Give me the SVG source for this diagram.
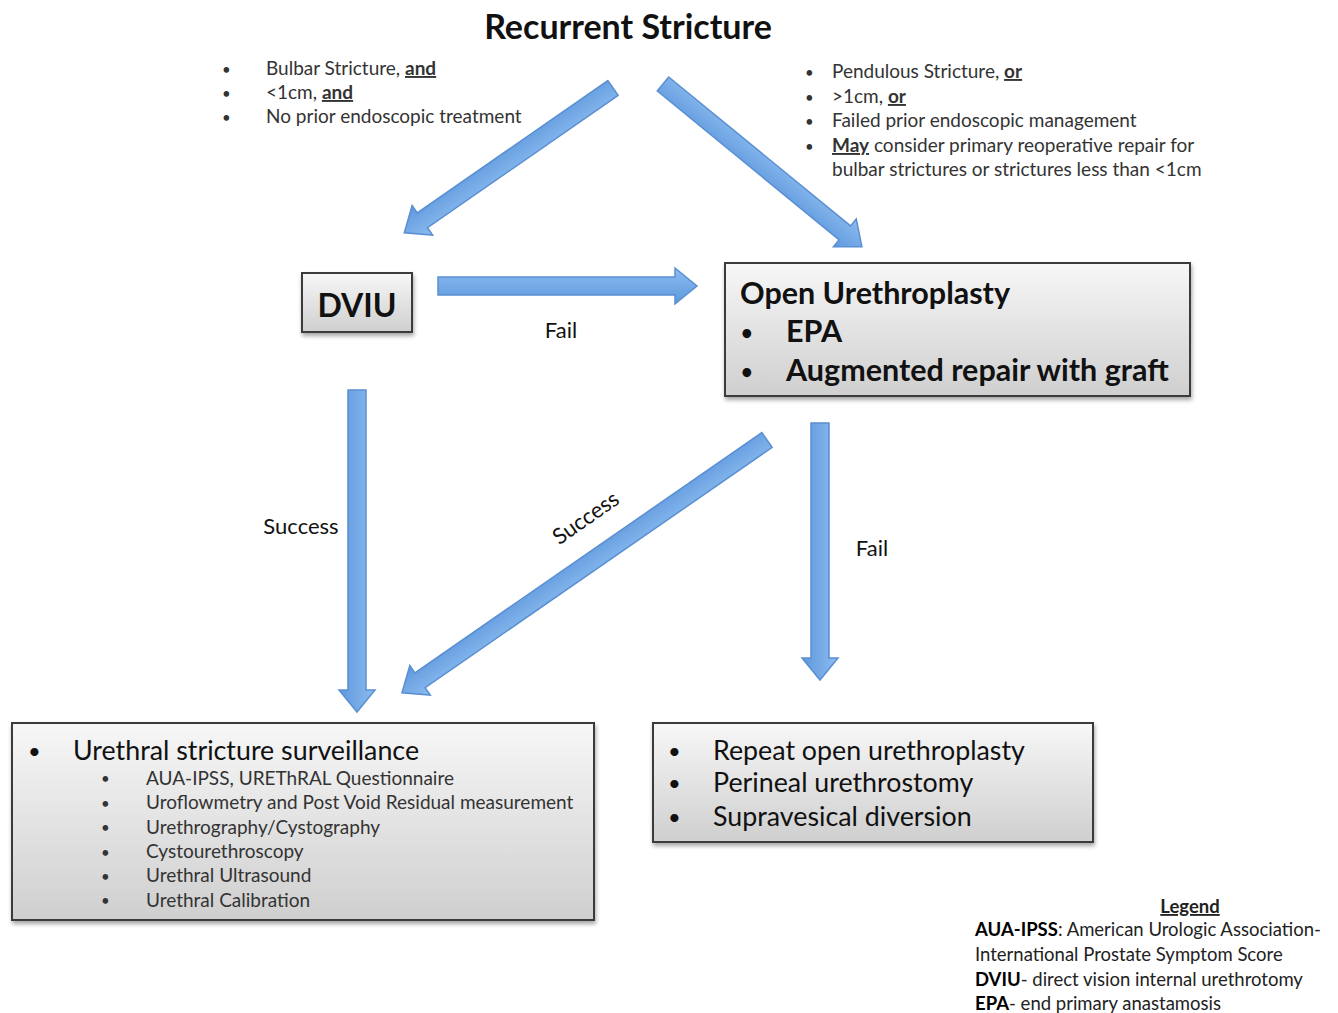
<svg xmlns="http://www.w3.org/2000/svg" width="1338" height="1013" viewBox="0 0 1338 1013">
<defs>
<linearGradient id="boxg" x1="0" y1="0" x2="0" y2="1">
<stop offset="0" stop-color="#f7f7f7"/>
<stop offset="1" stop-color="#cfcfcf"/>
</linearGradient>
<linearGradient id="arrg" x1="0" y1="0" x2="0" y2="1">
<stop offset="0" stop-color="#8cbcf0"/>
<stop offset="1" stop-color="#5e98dc"/>
</linearGradient>
<filter id="sh" x="-10%" y="-10%" width="120%" height="130%">
<feDropShadow dx="1" dy="3" stdDeviation="2" flood-color="#000" flood-opacity="0.35"/>
</filter>
</defs>
<style>
text{font-family:Lato,"Open Sans","Liberation Sans",sans-serif;fill:#111}
.box{fill:url(#boxg);stroke:#3a3a3a;stroke-width:2;filter:url(#sh)}
.arr{fill:url(#arrg);stroke:#5a8fd2;stroke-width:1.5}
.cond{font-size:19px;fill:#333}
.dot{font-size:15px;fill:#333}
.lbl{font-size:22px}
.big{font-size:26.8px}
.sub{font-size:19px;fill:#333}
.leg{font-size:18.5px;fill:#222}
.hd{font-size:30.5px;font-weight:bold}
.b{font-weight:bold}
.u{text-decoration:underline}
</style>
<rect width="1338" height="1013" fill="#fff"/>
<text x="628" y="39" text-anchor="middle" font-size="34" font-weight="bold">Recurrent Stricture</text>
<g id="cond-left">
<text x="222" y="75" class="dot">•</text><text x="266" y="75" class="cond">Bulbar Stricture, <tspan class="b u">and</tspan></text>
<text x="222" y="99" class="dot">•</text><text x="266" y="99" class="cond">&lt;1cm, <tspan class="b u">and</tspan></text>
<text x="222" y="123" class="dot">•</text><text x="266" y="123" class="cond">No prior endoscopic treatment</text>
</g>
<g id="cond-right">
<text x="805" y="78" class="dot">•</text><text x="832" y="78" class="cond">Pendulous Stricture, <tspan class="b u">or</tspan></text>
<text x="805" y="103" class="dot">•</text><text x="832" y="103" class="cond">&gt;1cm, <tspan class="b u">or</tspan></text>
<text x="805" y="127" class="dot">•</text><text x="832" y="127" class="cond">Failed prior endoscopic management</text>
<text x="805" y="152" class="dot">•</text><text x="832" y="152" class="cond"><tspan class="b u">May</tspan> consider primary reoperative repair for</text>
<text x="832" y="176" class="cond">bulbar strictures or strictures less than &lt;1cm</text>
</g>
<g id="connectors">
<path class="arr" transform="translate(613,88) rotate(145.25)" d="M0,-9 L232,-9 L232,-18 L254,0 L232,18 L232,9 L0,9 Z"/>
<path class="arr" transform="translate(663,84) rotate(39.3)" d="M0,-9 L235,-9 L235,-18 L257,0 L235,18 L235,9 L0,9 Z"/>
<path class="arr" transform="translate(438,286)" d="M0,-9 L237,-9 L237,-18 L259,0 L237,18 L237,9 L0,9 Z"/>
<path class="arr" transform="translate(357,390) rotate(90)" d="M0,-9 L300,-9 L300,-18 L322,0 L300,18 L300,9 L0,9 Z"/>
<path class="arr" transform="translate(767,440) rotate(145.3)" d="M0,-9 L422,-9 L422,-18 L444,0 L422,18 L422,9 L0,9 Z"/>
<path class="arr" transform="translate(820,423) rotate(90)" d="M0,-9 L235,-9 L235,-18 L257,0 L235,18 L235,9 L0,9 Z"/>
<text x="561" y="338" text-anchor="middle" class="lbl">Fail</text>
<text x="301" y="534" text-anchor="middle" class="lbl">Success</text>
<text x="0" y="0" text-anchor="middle" class="lbl" transform="translate(590,524) rotate(-35)">Success</text>
<text x="872" y="556" text-anchor="middle" class="lbl">Fail</text>
</g>
<g id="dviu">
<rect class="box" x="302" y="273" width="110" height="59"/>
<text x="357" y="317" text-anchor="middle" font-size="32" font-weight="bold">DVIU</text>
</g>
<g id="open-urethroplasty">
<rect class="box" x="725" y="263" width="465" height="133"/>
<text x="740" y="304" class="hd">Open Urethroplasty</text>
<text x="741" y="340" font-size="20" font-weight="bold">•</text>
<text x="786" y="342" class="hd">EPA</text>
<text x="741" y="379" font-size="20" font-weight="bold">•</text>
<text x="786" y="381" class="hd">Augmented repair with graft</text>
</g>
<g id="surveillance">
<rect class="box" x="12" y="723" width="582" height="197"/>
<text x="28" y="759" font-size="22">•</text>
<text x="73" y="760" class="big">Urethral stricture surveillance</text>
<text x="101" y="784" class="dot">•</text><text x="146" y="785" class="sub">AUA-IPSS, UREThRAL Questionnaire</text>
<text x="101" y="809" class="dot">•</text><text x="146" y="809" class="sub">Uroflowmetry and Post Void Residual measurement</text>
<text x="101" y="833" class="dot">•</text><text x="146" y="834" class="sub">Urethrography/Cystography</text>
<text x="101" y="858" class="dot">•</text><text x="146" y="858" class="sub">Cystourethroscopy</text>
<text x="101" y="882" class="dot">•</text><text x="146" y="882" class="sub">Urethral Ultrasound</text>
<text x="101" y="906" class="dot">•</text><text x="146" y="907" class="sub">Urethral Calibration</text>
</g>
<g id="salvage">
<rect class="box" x="653" y="723" width="440" height="119"/>
<text x="668" y="759" font-size="22">•</text><text x="713" y="760" class="big">Repeat open urethroplasty</text>
<text x="668" y="791" font-size="22">•</text><text x="713" y="792" class="big">Perineal urethrostomy</text>
<text x="668" y="825" font-size="22">•</text><text x="713" y="826" class="big">Supravesical diversion</text>
</g>
<g id="legend">
<text x="1190" y="913" text-anchor="middle" class="leg b u">Legend</text>
<text x="975" y="936" class="leg"><tspan class="b" fill="#000">AUA-IPSS</tspan>: American Urologic Association-</text>
<text x="975" y="961" class="leg">International Prostate Symptom Score</text>
<text x="975" y="986" class="leg"><tspan class="b" fill="#000">DVIU</tspan>- direct vision internal urethrotomy</text>
<text x="975" y="1010" class="leg"><tspan class="b" fill="#000">EPA</tspan>- end primary anastamosis</text>
</g>
</svg>
